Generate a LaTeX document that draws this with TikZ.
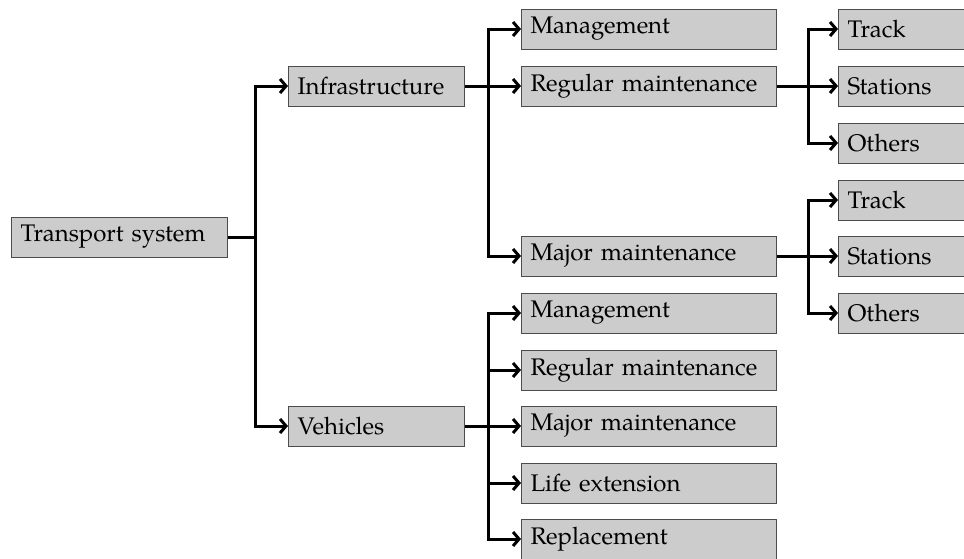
\documentclass[tikz,border=0pt]{standalone}
\usepackage{fontspec}
\setmainfont{TeX Gyre Pagella}
\usetikzlibrary{arrows.meta}
\begin{document}
\begin{tikzpicture}[x=0.5pt,y=-0.5pt,
  box/.style={draw=black!70, fill=black!20, line width=0.5pt, minimum height=20pt,
    anchor=west, align=left, inner xsep=4.5pt, inner ysep=0pt,
    font=\fontsize{12}{14}\selectfont},
  wa/.style={text width=99pt},
  wb/.style={text width=79pt},
  wc/.style={text width=118.5pt},
  wd/.style={text width=57pt},
  link/.style={line width=1.5pt},
  conn/.style={line width=1.5pt, -{Straight Barb[length=3pt,width=7pt]}}]
\useasboundingbox (0,0) rectangle (964,558);
% level 0
\node[box,wa] (ts) at (11,237) {Transport system};
% level 1
\node[box,wb] (inf) at (288,86) {Infrastructure};
\node[box,wb] (veh) at (288,426) {Vehicles};
% level 2 infrastructure
\node[box,wc] (im) at (521,29) {Management};
\node[box,wc] (ir) at (521,86) {Regular maintenance};
\node[box,wc] (ij) at (521,256) {Major maintenance};
% level 2 vehicles
\node[box,wc] (vm) at (521,313) {Management};
\node[box,wc] (vr) at (521,370) {Regular maintenance};
\node[box,wc] (vj) at (521,426) {Major maintenance};
\node[box,wc] (vl) at (521,483) {Life extension};
\node[box,wc] (vp) at (521,539) {Replacement};
% level 3
\node[box,wd] (t1) at (838,29) {Track};
\node[box,wd] (s1) at (838,86) {Stations};
\node[box,wd] (o1) at (838,143) {Others};
\node[box,wd] (t2) at (838,200) {Track};
\node[box,wd] (s2) at (838,256) {Stations};
\node[box,wd] (o2) at (838,313) {Others};
% bus positions
\coordinate (bA) at (255,0);
\coordinate (bB) at (488,0);
\coordinate (bC) at (808,0);
% connectors level 0 -> 1
\draw[link] (ts.east) -- (ts.east -| bA);
\draw[conn] (ts.east -| bA) |- (inf.west);
\draw[conn] (ts.east -| bA) |- (veh.west);
% infrastructure
\draw[link] (inf.east) -- (inf.east -| bB);
\draw[conn] (inf.east -| bB) |- (im.west);
\draw[conn] (inf.east -| bB) -- (ir.west);
\draw[conn] (inf.east -| bB) |- (ij.west);
% vehicles
\draw[link] (veh.east) -- (veh.east -| bB);
\draw[conn] (veh.east -| bB) |- (vm.west);
\draw[conn] (veh.east -| bB) |- (vr.west);
\draw[conn] (veh.east -| bB) -- (vj.west);
\draw[conn] (veh.east -| bB) |- (vl.west);
\draw[conn] (veh.east -| bB) |- (vp.west);
% regular maintenance
\draw[link] (ir.east) -- (ir.east -| bC);
\draw[conn] (ir.east -| bC) |- (t1.west);
\draw[conn] (ir.east -| bC) -- (s1.west);
\draw[conn] (ir.east -| bC) |- (o1.west);
% major maintenance
\draw[link] (ij.east) -- (ij.east -| bC);
\draw[conn] (ij.east -| bC) |- (t2.west);
\draw[conn] (ij.east -| bC) -- (s2.west);
\draw[conn] (ij.east -| bC) |- (o2.west);
\end{tikzpicture}
\end{document}
